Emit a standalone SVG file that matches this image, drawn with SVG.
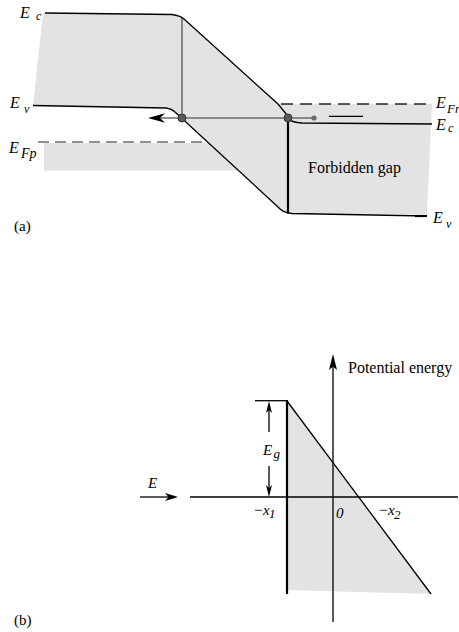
<svg xmlns="http://www.w3.org/2000/svg" width="459" height="632" viewBox="0 0 459 632">
<style>
.shade{fill:#e3e3e3;stroke:none}
.ln{fill:none;stroke:#000;stroke-width:1.3}
.thick{fill:none;stroke:#000;stroke-width:2.2}
.gray{fill:none;stroke:#6b6b6b;stroke-width:1.6}
.dashg{fill:none;stroke:#6b6b6b;stroke-width:1.5;stroke-dasharray:11 6}
.dashk{fill:none;stroke:#222;stroke-width:1.3;stroke-dasharray:12 7}
.head{fill:#000;stroke:none}
.dot{fill:#5a5a5a;stroke:#333;stroke-width:1}
.v{font-style:italic;font-size:16px}
.s{font-style:italic;font-size:12px}
.t{font-size:16px}
</style>
<rect width="459" height="632" fill="#fff"/>
<g id="panel-a">
  <path class="shade" d="M43,13 L172,14.5 Q180,15.5 184,19 L278,104 L432,104 L427,214 L292,214 Q283,213 278,207 L238.4,170.5 L44,170.5 L44,143 L208.6,143 L175,112 Q172,109 166,108 L33,105.5 Z"/>
  <g id="connectors-a">
    <path class="dashg" d="M38,142 L206,142"/>
    <path class="dashk" d="M281,104 L432,104"/>
    <path class="gray" d="M182,17 L182,118"/>
    <path class="gray" d="M160,118 L314,118"/>
    <path class="head" d="M148,118 L165,113.3 L160,118 L165,122.7 Z"/>
    <path class="ln" d="M329,116.3 L363,116.3"/>
    <path class="ln" d="M45,13 L172,14.5 Q180,15.5 184,19 L278,104 L287,115"/>
    <path class="ln" d="M289,119 Q292,122.5 302,123 L432,124"/>
    <path class="ln" d="M33,105.5 L166,108 Q172,109 175,112 L278,207 Q283,213 292,213.5 L427,216"/>
    <path class="thick" d="M288,118 L288,213.5"/>
    <path class="thick" d="M415,216 L427,216"/>
  </g>
  <g id="carriers">
    <circle class="dot" cx="182" cy="118" r="4"/>
    <circle class="dot" cx="288" cy="118" r="4"/>
    <circle cx="314" cy="118" r="2.6" fill="#6b6b6b"/>
  </g>
  <g id="labels-a" font-family="'Liberation Serif', 'Times New Roman', serif" fill="#000">
    <text class="v" x="20" y="18">E</text><text class="s" x="36" y="20">c</text>
    <text class="v" x="10" y="108">E</text><text class="s" x="24" y="113">v</text>
    <text class="v" x="9" y="153">E</text><text class="s" x="21" y="158" style="font-size:14px">Fp</text>
    <text class="v" x="436" y="108">E</text><text class="s" x="447" y="113" style="font-size:13px">Fn</text>
    <text class="v" x="436" y="130">E</text><text class="s" x="448" y="132">c</text>
    <text class="v" x="433" y="223">E</text><text class="s" x="446" y="228">v</text>
    <text class="t" x="308" y="173">Forbidden gap</text>
    <text x="14" y="231" font-size="15">(a)</text>
  </g>
</g>
<g id="panel-b">
  <path class="shade" d="M287,401 L431,594 L287,590 Z"/>
  <g id="connectors-b">
    <path class="ln" d="M190,497 L458,497"/>
    <path class="ln" d="M333,366 L333,622"/>
    <path class="head" d="M333,354 L337,370 L333,366.5 L329,370 Z"/>
    <path class="ln" d="M140,497 L170,497"/>
    <path class="head" d="M178,497 L165,493 L168.5,497 L165,501 Z"/>
    <path class="ln" d="M287,401 L431,594"/>
    <path class="thick" d="M287,400 L287,594"/>
    <path class="ln" d="M255,400.7 L287,400.7"/>
    <path class="ln" d="M269,410 L269,432"/>
    <path class="head" d="M269,401 L272,413 L269,410 L266,413 Z"/>
    <path class="ln" d="M269,466 L269,488"/>
    <path class="head" d="M269,497 L272,485 L269,488 L266,485 Z"/>
  </g>
  <g id="labels-b" font-family="'Liberation Serif', 'Times New Roman', serif" fill="#000">
    <text class="t" x="348" y="373">Potential energy</text>
    <text class="v" x="263" y="455" style="font-size:15px">E</text><text class="s" x="273.5" y="458" style="font-size:13px">g</text>
    <text class="v" x="148" y="488" style="font-size:15px">E</text>
    <text class="v" x="253" y="515" style="font-size:15px">−x</text><text class="s" x="269" y="518" style="font-size:13px">1</text>
    <text class="v" x="336" y="518" style="font-size:15px">0</text>
    <text class="v" x="378" y="515" style="font-size:15px">−x</text><text class="s" x="394" y="519" style="font-size:13px">2</text>
    <text x="14" y="625" font-size="15">(b)</text>
  </g>
</g>
</svg>
